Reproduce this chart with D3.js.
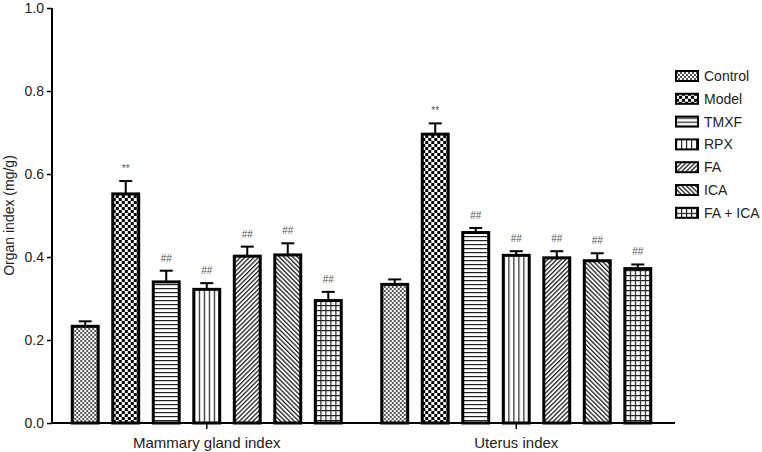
<!DOCTYPE html>
<html>
<head>
<meta charset="utf-8">
<script src="https://cdn.jsdelivr.net/npm/d3@7/dist/d3.min.js"></script>
<style>
  body { margin: 0; background: #fff; }
  svg text { font-family: "Liberation Sans", Arial, Helvetica, sans-serif; }
</style>
</head>
<body>
<div id="chart"></div>
<script>
// data
var groups = ["Mammary gland index", "Uterus index"];
var series = ["Control", "Model", "TMXF", "RPX", "FA", "ICA", "FA + ICA"];
var mammaryValues = [0.233, 0.552, 0.340, 0.322, 0.402, 0.405, 0.295];
var mammaryErrors = [0.012, 0.031, 0.027, 0.015, 0.023, 0.028, 0.021];
var uterusValues = [0.334, 0.696, 0.459, 0.404, 0.398, 0.391, 0.372];
var uterusErrors = [0.012, 0.026, 0.011, 0.010, 0.016, 0.018, 0.010];
var marks = ["", "**", "##", "##", "##", "##", "##"];
var yTicks = [0, 0.2, 0.4, 0.6, 0.8, 1.0];

var width = 762,
	height = 452,
	margin = { left: 52, top: 8, right: 91, bottom: 29 };

var svg = d3.select('#chart').append('svg')
	.attr('width', width)
	.attr('height', height);

// fill patterns, one per series
var defs = svg.append('defs');

function pattern(id, w, h) {
	return defs.append('pattern')
		.attr('id', id)
		.attr('patternUnits', 'userSpaceOnUse')
		.attr('width', w)
		.attr('height', h);
}

var p;
p = pattern('pat0', 4, 4);
p.append('rect').attr('width', 4).attr('height', 4).attr('fill', '#fff');
p.append('rect').attr('width', 2).attr('height', 2).attr('fill', '#555');
p.append('rect').attr('x', 2).attr('y', 2).attr('width', 2).attr('height', 2).attr('fill', '#555');

p = pattern('pat1', 6, 6);
p.append('rect').attr('width', 6).attr('height', 6).attr('fill', '#fff');
p.append('rect').attr('width', 3).attr('height', 3).attr('fill', '#000');
p.append('rect').attr('x', 3).attr('y', 3).attr('width', 3).attr('height', 3).attr('fill', '#000');

p = pattern('pat2', 4, 4);
p.append('rect').attr('width', 4).attr('height', 4).attr('fill', '#fff');
p.append('rect').attr('y', 0).attr('width', 4).attr('height', 1.2).attr('fill', '#222');

p = pattern('pat3', 5, 5);
p.append('rect').attr('width', 5).attr('height', 5).attr('fill', '#fff');
p.append('rect').attr('x', 0).attr('width', 1.2).attr('height', 5).attr('fill', '#222');

p = pattern('pat4', 3.2, 3.2).attr('patternTransform', 'rotate(45)');
p.append('rect').attr('width', 3.2).attr('height', 3.2).attr('fill', '#fff');
p.append('rect').attr('width', 1.3).attr('height', 3.2).attr('fill', '#222');

p = pattern('pat5', 3.2, 3.2).attr('patternTransform', 'rotate(-45)');
p.append('rect').attr('width', 3.2).attr('height', 3.2).attr('fill', '#fff');
p.append('rect').attr('width', 1.3).attr('height', 3.2).attr('fill', '#222');

p = pattern('pat6', 5, 5);
p.append('rect').attr('width', 5).attr('height', 5).attr('fill', '#fff');
p.append('rect').attr('width', 5).attr('height', 1.2).attr('fill', '#222');
p.append('rect').attr('width', 1.2).attr('height', 5).attr('fill', '#222');

var fill = d3.scaleOrdinal()
	.domain(series)
	.range(series.map(function(d, i) { return 'url(#pat' + i + ')'; }));

// scales
var x0 = d3.scaleBand()
	.domain(groups)
	.range([margin.left, 671]);

var x1 = d3.scaleBand()
	.domain(series)
	.range([0, x0.bandwidth()])
	.paddingInner(0.36)
	.paddingOuter(0.5);

var y = d3.scaleLinear()
	.domain([0, 1])
	.range([height - margin.bottom, margin.top]);

var data = [];
series.forEach(function(s, i) {
	data.push({ group: groups[0], id: s, value: mammaryValues[i], err: mammaryErrors[i], mark: marks[i] });
	data.push({ group: groups[1], id: s, value: uterusValues[i], err: uterusErrors[i], mark: marks[i] });
});

// bars
var bars = svg.append('g').attr('class', 'bars')
	.selectAll('g')
	.data(data)
	.enter().append('g')
	.attr('transform', function(d) {
		return 'translate(' + (x0(d.group) + x1(d.id)) + ',0)';
	});

bars.append('line')
	.attr('x1', x1.bandwidth() / 2)
	.attr('x2', x1.bandwidth() / 2)
	.attr('y1', function(d) { return y(d.value); })
	.attr('y2', function(d) { return y(d.value + d.err); })
	.attr('stroke', '#000')
	.attr('stroke-width', 2);

bars.append('line')
	.attr('x1', x1.bandwidth() / 2 - 6.5)
	.attr('x2', x1.bandwidth() / 2 + 6.5)
	.attr('y1', function(d) { return y(d.value + d.err); })
	.attr('y2', function(d) { return y(d.value + d.err); })
	.attr('stroke', '#000')
	.attr('stroke-width', 2);

bars.append('rect')
	.attr('x', 0)
	.attr('y', function(d) { return y(d.value); })
	.attr('width', x1.bandwidth())
	.attr('height', function(d) { return y(0) - y(d.value); })
	.style('fill', function(d) { return fill(d.id); })
	.attr('stroke', '#000')
	.attr('stroke-width', 3);

bars.append('text')
	.attr('x', x1.bandwidth() / 2)
	.attr('y', function(d) { return y(d.value + d.err) - 9; })
	.attr('text-anchor', 'middle')
	.style('font-size', '10px')
	.style('fill', '#555')
	.text(function(d) { return d.mark; });

// y axis
var yAxis = svg.append('g')
	.attr('transform', 'translate(' + margin.left + ',0)')
	.call(d3.axisLeft(y).tickValues(yTicks).tickFormat(d3.format('.1f')).tickSize(5).tickPadding(3));
yAxis.select('.domain').attr('stroke-width', 2).attr('d', 'M0,' + y(0) + 'V' + y(1));
yAxis.selectAll('.tick line').attr('stroke-width', 1.5);
yAxis.selectAll('.tick text').style('font-size', '14px').style('fill', '#222');

svg.append('text')
	.attr('transform', 'translate(14,' + ((y(0) + y(1)) / 2) + ') rotate(-90)')
	.attr('text-anchor', 'middle')
	.style('font-size', '14px')
	.style('fill', '#222')
	.text('Organ index (mg/g)');

// x axis
var xAxis = svg.append('g')
	.attr('transform', 'translate(0,' + y(0) + ')')
	.call(d3.axisBottom(x0).tickSize(6).tickPadding(8).tickSizeOuter(0));
xAxis.select('.domain').attr('stroke-width', 2).attr('d', 'M' + margin.left + ',0H675');
xAxis.selectAll('.tick line').attr('stroke-width', 1.5);
xAxis.selectAll('.tick text').style('font-size', '15px').style('fill', '#222');

// legend
var legend = svg.append('g').attr('class', 'legend')
	.selectAll('g')
	.data(series)
	.enter().append('g')
	.attr('transform', function(d, i) {
		return 'translate(676,' + (76 + i * 22.8) + ')';
	});

legend.append('rect')
	.attr('x', 0)
	.attr('y', -5)
	.attr('width', 22)
	.attr('height', 10)
	.style('fill', function(d) { return fill(d); })
	.attr('stroke', '#000')
	.attr('stroke-width', 2);

legend.append('text')
	.attr('x', 28)
	.attr('dy', '0.35em')
	.style('font-size', '14px')
	.style('fill', '#222')
	.text(function(d) { return d; });
</script>
</body>
</html>
